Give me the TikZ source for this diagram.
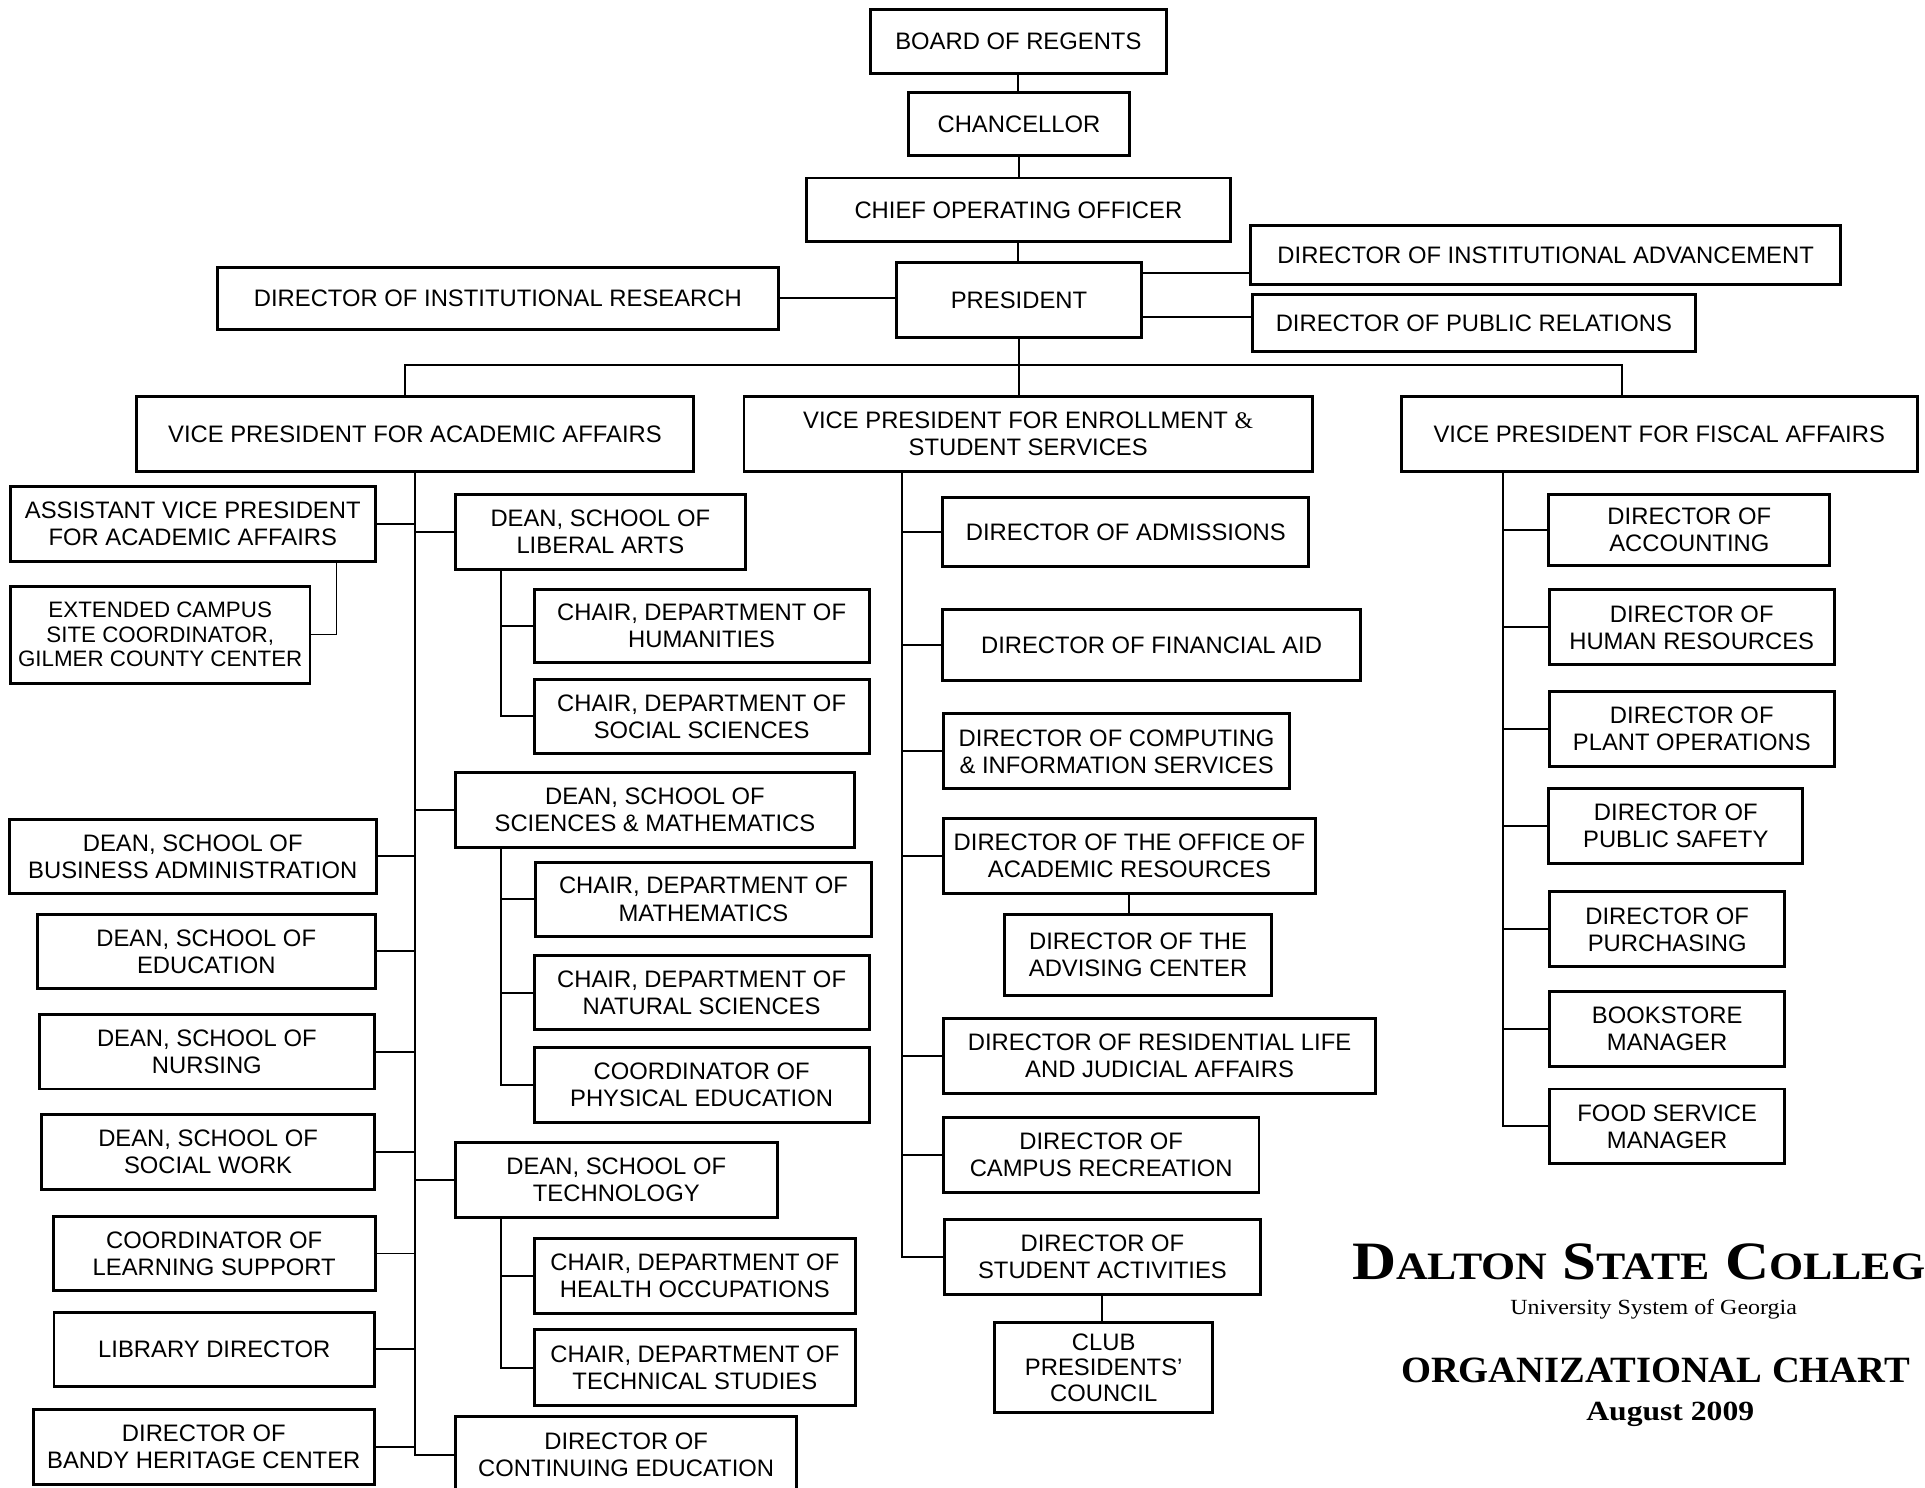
\documentclass[tikz,border=0pt]{standalone}
\usepackage{fontspec}
\setmainfont{Liberation Sans}
\newfontfamily\serifttl{Liberation Serif}
\newcommand{\bigsc}[2]{{\fontsize{22}{22}\selectfont #1}{\fontsize{15.8}{16}\selectfont #2}}

\begin{document}
\begin{tikzpicture}
[x=0.5pt, y=-0.5pt,
 box/.style={draw, line width=1.2pt, align=center, inner sep=1pt,
             font={\fontsize{9.7}{11}\selectfont}},
 wh/.style 2 args={minimum width=#1*0.5pt, minimum height=#2*0.5pt},
 link/.style={draw, line width=0.8pt},
 title/.style={inner sep=0, anchor=base, font=\serifttl}]
\useasboundingbox (0,0) rectangle (1568,1212);
\clip (0,0) rectangle (1568,1212);

% top of the chart
\node (bor) at (829.5,33.5) [box, wh={241}{52}] {BOARD OF REGENTS};
\node (chanc) at (830,101) [box, wh={180}{52}] {CHANCELLOR};
\node (coo) at (829.5,171) [box, wh={345}{52}] {CHIEF OPERATING OFFICER};
\node (pres) at (830,244.5) [box, wh={200}{61}] {PRESIDENT};
\node (dir) at (405.5,243) [box, wh={457}{51}] {DIRECTOR OF INSTITUTIONAL RESEARCH};
\node (dia) at (1259,208) [box, wh={481}{48}] {DIRECTOR OF INSTITUTIONAL ADVANCEMENT};
\node (dpr) at (1200.5,263) [box, wh={361}{47}] {DIRECTOR OF PUBLIC RELATIONS};

\node (vpaa) at (338,353.5) [box, wh={454}{61}] {VICE PRESIDENT FOR ACADEMIC AFFAIRS};
\node (vpes) at (837.5,353.5) [box, wh={463}{61}] {VICE PRESIDENT FOR ENROLLMENT {\serifttl\&}\\STUDENT SERVICES};
\node (vpfa) at (1351.5,353.5) [box, wh={420}{61}] {VICE PRESIDENT FOR FISCAL AFFAIRS};

% academic affairs, left side
\node (avp) at (157,426.5) [box, wh={297}{61}] {ASSISTANT VICE PRESIDENT\\FOR ACADEMIC AFFAIRS};
\node (ecsc) at (130.5,517) [box, wh={244}{79}, font={\fontsize{9.1}{10}\selectfont}] {EXTENDED CAMPUS\\SITE COORDINATOR,\\GILMER COUNTY CENTER};
\node (dba) at (157,697.5) [box, wh={299}{60}] {DEAN, SCHOOL OF\\BUSINESS ADMINISTRATION};
\node (ded) at (168,775) [box, wh={275}{61}] {DEAN, SCHOOL OF\\EDUCATION};
\node (dnur) at (168.5,856.5) [box, wh={273}{61}] {DEAN, SCHOOL OF\\NURSING};
\node (dsw) at (169.5,938) [box, wh={271}{61}] {DEAN, SCHOOL OF\\SOCIAL WORK};
\node (cls) at (174.5,1021) [box, wh={262}{61}] {COORDINATOR OF\\LEARNING SUPPORT};
\node (lib) at (174.5,1099) [box, wh={261}{60}] {LIBRARY DIRECTOR};
\node (bhc) at (166,1178.5) [box, wh={278}{61}] {DIRECTOR OF\\BANDY HERITAGE CENTER};

% academic affairs, right side
\node (dla) at (489,433) [box, wh={236}{61}] {DEAN, SCHOOL OF\\LIBERAL ARTS};
\node (chum) at (571.5,510) [box, wh={273}{60}] {CHAIR, DEPARTMENT OF\\HUMANITIES};
\node (css) at (571.5,583.5) [box, wh={273}{60}] {CHAIR, DEPARTMENT OF\\SOCIAL SCIENCES};
\node (dsm) at (533.5,659.5) [box, wh={325}{61}] {DEAN, SCHOOL OF\\SCIENCES \& MATHEMATICS};
\node (cmath) at (573,732.5) [box, wh={273}{60}] {CHAIR, DEPARTMENT OF\\MATHEMATICS};
\node (cns) at (571.5,808.5) [box, wh={273}{60}] {CHAIR, DEPARTMENT OF\\NATURAL SCIENCES};
\node (cpe) at (571.5,883.5) [box, wh={273}{61}] {COORDINATOR OF\\PHYSICAL EDUCATION};
\node (dtech) at (502,961) [box, wh={262}{61}] {DEAN, SCHOOL OF\\TECHNOLOGY};
\node (cho) at (566,1039) [box, wh={261}{61}] {CHAIR, DEPARTMENT OF\\HEALTH OCCUPATIONS};
\node (cts) at (566,1114) [box, wh={261}{62}] {CHAIR, DEPARTMENT OF\\TECHNICAL STUDIES};
\node (dce) at (510,1185) [box, wh={278}{62}] {DIRECTOR OF\\CONTINUING EDUCATION};

% enrollment & student services
\node (dadm) at (917,433.5) [box, wh={298}{56}] {DIRECTOR OF ADMISSIONS};
\node (dfa) at (938,525.5) [box, wh={340}{58}] {DIRECTOR OF FINANCIAL AID};
\node (dcis) at (909.5,612) [box, wh={282}{61}] {DIRECTOR OF COMPUTING\\\& INFORMATION SERVICES};
\node (doar) at (920,697) [box, wh={303}{61}] {DIRECTOR OF THE OFFICE OF\\ACADEMIC RESOURCES};
\node (dac) at (927,778) [box, wh={218}{66}] {DIRECTOR OF THE\\ADVISING CENTER};
\node (drl) at (944.5,860) [box, wh={352}{61}] {DIRECTOR OF RESIDENTIAL LIFE\\AND JUDICIAL AFFAIRS};
\node (dcr) at (897,941) [box, wh={257}{61}] {DIRECTOR OF\\CAMPUS RECREATION};
\node (dsa) at (898,1024) [box, wh={257}{61}] {DIRECTOR OF\\STUDENT ACTIVITIES};
\node (cpc) at (899,1114) [box, wh={178}{73}, font={\fontsize{9.7}{10.5}\selectfont}] {CLUB\\PRESIDENTS'\\COUNCIL};

% fiscal affairs
\node (dacc) at (1376,431.5) [box, wh={229}{58}] {DIRECTOR OF\\ACCOUNTING};
\node (dhr) at (1378,511) [box, wh={232}{61}] {DIRECTOR OF\\HUMAN RESOURCES};
\node (dpo) at (1378,594) [box, wh={232}{61}] {DIRECTOR OF\\PLANT OPERATIONS};
\node (dps) at (1365,672.5) [box, wh={207}{61}] {DIRECTOR OF\\PUBLIC SAFETY};
\node (dpur) at (1358,757) [box, wh={191}{61}] {DIRECTOR OF\\PURCHASING};
\node (bsm) at (1358,838) [box, wh={191}{61}] {BOOKSTORE\\MANAGER};
\node (fsm) at (1358,917.5) [box, wh={191}{61}] {FOOD SERVICE\\MANAGER};

% title
\node (dsc) at (1101,1042) [title, anchor=base west, font=\serifttl\bfseries]
  {\scalebox{1.13}[1]{\bigsc{D}{ALTON}\hspace{5.6pt}\bigsc{S}{TATE}\hspace{5.6pt}\bigsc{C}{OLLEG}}};
\node (usg) at (1347,1071) [title]
  {\scalebox{1.11}[1]{\fontsize{8.8}{10}\selectfont University System of Georgia}};
\node (orgc) at (1348.5,1126) [title, font=\serifttl\bfseries]
  {\scalebox{1.04}[1]{\fontsize{15.1}{16}\selectfont ORGANIZATIONAL CHART}};
\node (aug) at (1360.5,1157) [title, font=\serifttl\bfseries]
  {\scalebox{1.14}[1]{\fontsize{11.3}{12}\selectfont August 2009}};

% connectors, top
\draw[link] (bor.south) -- (bor.south |- chanc.north);
\draw[link] (chanc.south) -- (chanc.south |- coo.north);
\draw[link] (coo.south) -- (coo.south |- pres.north);
\draw[link] (dir.east) -- (dir.east -| pres.west);
\draw[link] ([yshift=-7.3pt]dia.west) -- ([yshift=-7.3pt]dia.west -| pres.east);
\draw[link] ([yshift=2.5pt]dpr.west) -- ([yshift=2.5pt]dpr.west -| pres.east);

\coordinate (busl) at (330,297);
\coordinate (busr) at (1321,297);
\draw[link] (pres.south) -- (pres.south |- vpes.north);
\draw[link] (busl |- vpaa.north) -- (busl) -- (busr) -- (busr |- vpfa.north);

% academic affairs
\draw[link] (vpaa.south) |- (dce.west);
\foreach \n in {avp,dba,ded,dnur,dsw,cls,lib,bhc}
  \draw[link] (\n.east) -- (\n.east -| vpaa.south);
\foreach \n in {dla,dsm,dtech}
  \draw[link] (\n.west) -- (\n.west -| vpaa.south);
\draw[link, line width=0.5pt] ([xshift=58.5pt]avp.south) |- (ecsc.east);

\coordinate (lasp) at ([xshift=-40.5pt]dla.south);
\draw[link] (lasp) |- (css.west);
\draw[link] (chum.west) -- (chum.west -| lasp);
\coordinate (smsp) at ([xshift=-62.75pt]dsm.south);
\draw[link] (smsp) |- (cpe.west);
\foreach \n in {cmath,cns}
  \draw[link] (\n.west) -- (\n.west -| smsp);
\coordinate (tesp) at ([xshift=-47pt]dtech.south);
\draw[link] (tesp) |- (cts.west);
\draw[link] (cho.west) -- (cho.west -| tesp);

% enrollment & student services
\coordinate (essp) at ([xshift=-51.25pt]vpes.south);
\draw[link] (essp) |- (dsa.west);
\foreach \n in {dadm,dfa,dcis,doar,drl,dcr}
  \draw[link] (\n.west) -- (\n.west -| essp);
\draw[link] (doar.south) -- (doar.south |- dac.north);
\draw[link] (dsa.south) -- (dsa.south |- cpc.north);

% fiscal affairs
\coordinate (fasp) at ([xshift=-63.75pt]vpfa.south);
\draw[link] (fasp) |- (fsm.west);
\foreach \n in {dacc,dhr,dpo,dps,dpur,bsm}
  \draw[link] (\n.west) -- (\n.west -| fasp);
\end{tikzpicture}
\end{document}
